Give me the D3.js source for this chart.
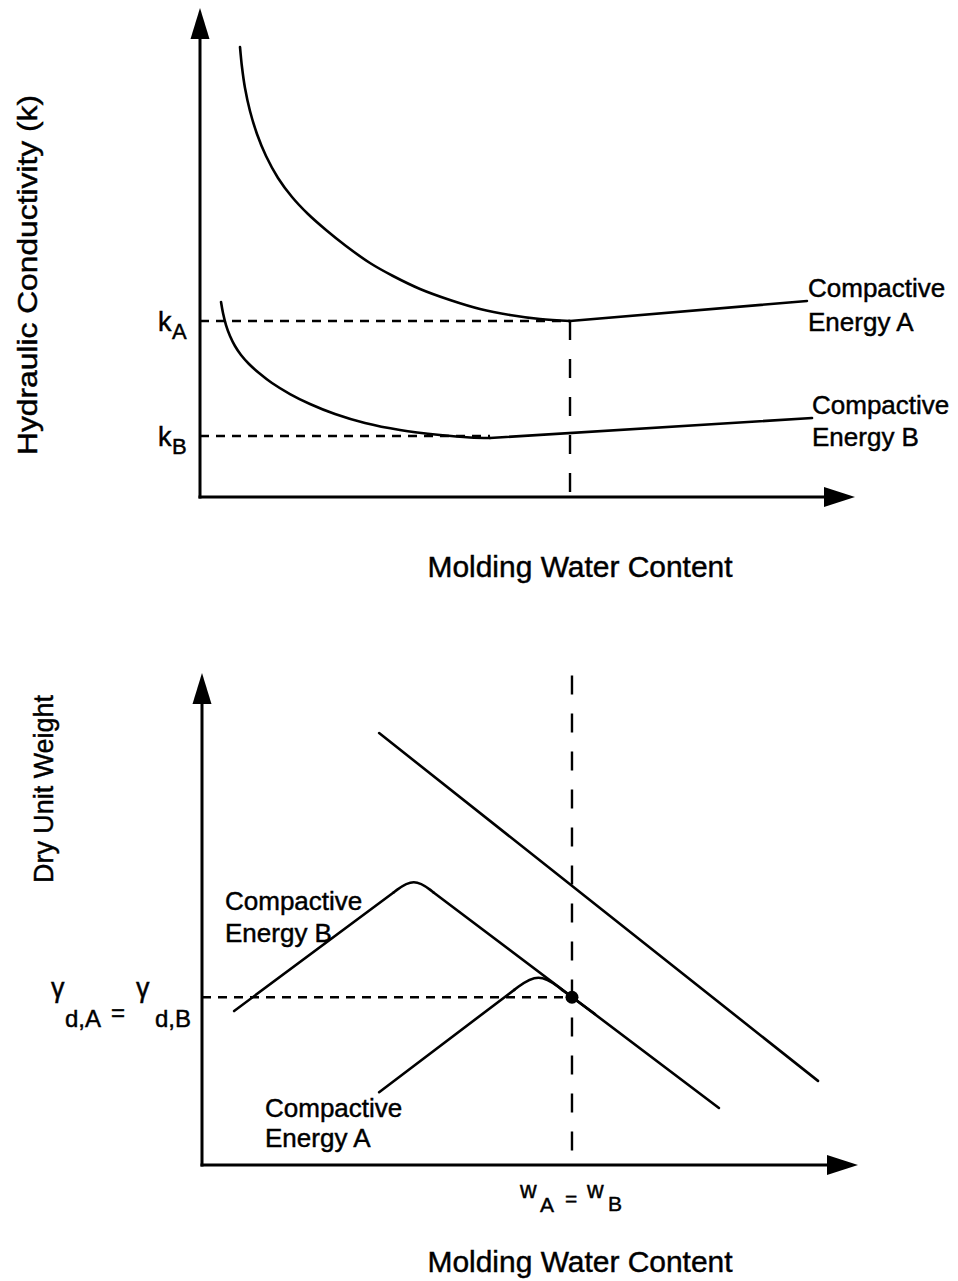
<!DOCTYPE html>
<html>
<head>
<meta charset="utf-8">
<script src="https://cdn.jsdelivr.net/npm/d3@7"></script>
<style>
  html, body { margin: 0; background: #fff; }
  svg { display: block; }
</style>
</head>
<body>
<svg id="fig" width="958" height="1281"></svg>
<script>
// values in arbitrary units: water content 0..100, y 0..100 (axis tip = 100)

// --- top: hydraulic conductivity vs molding water content ---
const kCurveA = [[6.11, 92.02], [6.41, 87.93], [6.87, 83.64], [7.63, 78.94], [8.70, 74.23],
  [10.08, 69.73], [11.91, 65.24], [14.05, 61.35], [16.49, 57.87], [19.24, 54.60], [22.29, 51.33],
  [25.95, 47.85], [29.47, 45.19], [33.59, 42.54], [38.17, 40.29], [42.75, 38.45], [47.33, 37.22],
  [51.91, 36.40], [56.49, 35.99]];
const kLineA = [[56.49, 35.99], [92.67, 40.08]];
const kCurveB = [[3.21, 39.88], [3.51, 37.63], [3.97, 35.17], [4.58, 32.92], [5.34, 30.88],
  [6.26, 29.04], [7.48, 27.20], [9.01, 25.36], [10.99, 23.31], [13.74, 21.06], [16.79, 19.02],
  [20.61, 16.97], [25.19, 15.13], [30.53, 13.70], [36.64, 12.68], [41.22, 12.17], [44.27, 12.07]];
const kLineB = [[44.27, 12.07], [93.44, 16.16]];
const kA = 35.99;
const kB = 12.47;
const kBDashEnd = 44.27;
const wOptA = 56.49;

// --- bottom: dry unit weight vs molding water content ---
const zavLine = [[27.0, 87.8], [93.9, 17.1]];
// [start, cap start, peak corner, cap end, end]
const gammaCurveB = [[4.9, 31.3], [29.2, 55.4], [32.3, 58.5], [35.3, 55.4], [78.8, 11.6]];
const gammaCurveA = [[27.0, 14.8], [47.6, 35.6], [51.3, 39.3], [54.9, 35.6], [59.9, 30.7]];
const gammaD = 34.1;
const wAB = 56.4;
const wDashTop = 99.5;

const FONT = "'Liberation Sans', Arial, Helvetica, sans-serif";
const svg = d3.select("#fig");

// scales
const xTop = d3.scaleLinear().domain([0, 100]).range([200, 855]);
const yTop = d3.scaleLinear().domain([0, 100]).range([497, 8]);
const xBot = d3.scaleLinear().domain([0, 100]).range([202, 858]);
const yBot = d3.scaleLinear().domain([0, 100]).range([1165, 673]);

function drawAxes(x, y) {
  const x0 = x(0), y0 = y(0), xt = x(100), yt = y(100);
  const g = svg.append("g").attr("class", "axes");
  g.append("line").attr("x1", x0).attr("y1", y0 + 1.5).attr("x2", x0).attr("y2", yt + 25)
    .attr("stroke", "#000").attr("stroke-width", 3);
  g.append("line").attr("x1", x0 - 1.5).attr("y1", y0).attr("x2", xt - 25).attr("y2", y0)
    .attr("stroke", "#000").attr("stroke-width", 3);
  // arrowheads
  g.append("path")
    .attr("d", `M${x0},${yt}L${x0 + 9.5},${yt + 31}L${x0 - 9.5},${yt + 31}Z`)
    .attr("fill", "#000");
  g.append("path")
    .attr("d", `M${xt},${y0}L${xt - 31},${y0 - 10}L${xt - 31},${y0 + 10}Z`)
    .attr("fill", "#000");
}

function drawPath(data, x, y, curve, width = 2.6) {
  const line = d3.line().x((d) => x(d[0])).y((d) => y(d[1])).curve(curve);
  svg.append("path")
    .datum(data)
    .attr("d", line)
    .attr("fill", "none")
    .attr("stroke", "#000")
    .attr("stroke-width", width)
    .attr("stroke-linejoin", "round")
    .attr("stroke-linecap", "round");
}

// straight legs with a rounded peak between them
function drawPeaked(pts, x, y) {
  drawPath(pts.slice(0, 2), x, y, d3.curveLinear);
  drawPath(pts.slice(1, 4), x, y, d3.curveBasis);
  drawPath(pts.slice(3), x, y, d3.curveLinear);
}

function dashed(x1, y1, x2, y2, dash) {
  svg.append("line")
    .attr("x1", x1).attr("y1", y1).attr("x2", x2).attr("y2", y2)
    .attr("stroke", "#000")
    .attr("stroke-width", 2.4)
    .attr("stroke-dasharray", dash);
}

function label(txt, x, y, size, opts = {}) {
  const t = svg.append("text")
    .attr("x", x).attr("y", y)
    .attr("font-family", FONT)
    .attr("font-size", size)
    .attr("fill", "#000")
    .attr("stroke", "#000")
    .attr("stroke-width", 0.45)
    .attr("text-anchor", opts.anchor || "start")
    .text(txt);
  if (opts.rotate) t.attr("transform", `rotate(-90,${x},${y})`);
  if (opts.length) t.attr("textLength", opts.length).attr("lengthAdjust", "spacingAndGlyphs");
  return t;
}

// ---------- top panel ----------
dashed(xTop(0), yTop(kA), xTop(wOptA), yTop(kA), "9,7");
dashed(xTop(0), yTop(kB), xTop(kBDashEnd), yTop(kB), "9,7");
dashed(xTop(wOptA), yTop(kA), xTop(wOptA), yTop(0), "19,19");

drawPath(kCurveA, xTop, yTop, d3.curveCatmullRom.alpha(0.5));
drawPath(kLineA, xTop, yTop, d3.curveLinear);
drawPath(kCurveB, xTop, yTop, d3.curveCatmullRom.alpha(0.5));
drawPath(kLineB, xTop, yTop, d3.curveLinear);

drawAxes(xTop, yTop);

label("k", 158, yTop(kA) + 10, 27);
label("A", 172, yTop(kA) + 18, 22);
label("k", 158, yTop(kB) + 10, 27);
label("B", 172, yTop(kB) + 18, 22);

label("Compactive", 808, 297, 26);
label("Energy A", 808, 331, 26);
label("Compactive", 812, 414, 26);
label("Energy B", 812, 446, 26);

label("Hydraulic Conductivity (k)", 37, 275, 28, { rotate: true, anchor: "middle", length: 360 });
label("Molding Water Content", 580, 577, 30, { anchor: "middle", length: 305 });

// ---------- bottom panel ----------
dashed(xBot(0), yBot(gammaD), xBot(wAB), yBot(gammaD), "9,7");
dashed(xBot(wAB), yBot(wDashTop), xBot(wAB), yBot(0), "19,19");

drawPath(zavLine, xBot, yBot, d3.curveLinear);
drawPeaked(gammaCurveB, xBot, yBot);
drawPeaked(gammaCurveA, xBot, yBot);

svg.append("circle")
  .attr("cx", xBot(wAB)).attr("cy", yBot(gammaD))
  .attr("r", 6.5)
  .attr("fill", "#000");

drawAxes(xBot, yBot);

label("Compactive", 225, 910, 26);
label("Energy B", 225, 942, 26);
label("Compactive", 265, 1117, 26);
label("Energy A", 265, 1147, 26);

// gamma label on y axis
label("\u03b3", 51, 997, 27);
label("d,A", 65, 1027, 24);
label("=", 111, 1021, 24);
label("\u03b3", 136, 997, 27);
label("d,B", 155, 1027, 24);

// w label on x axis
label("w", 520, 1198, 23);
label("A", 540, 1212, 21);
label("=", 565, 1206, 21);
label("w", 587, 1198, 23);
label("B", 608, 1211, 21);

label("Dry Unit Weight", 53, 789, 28, { rotate: true, anchor: "middle", length: 188 });
label("Molding Water Content", 580, 1272, 30, { anchor: "middle", length: 305 });
</script>
</body>
</html>
